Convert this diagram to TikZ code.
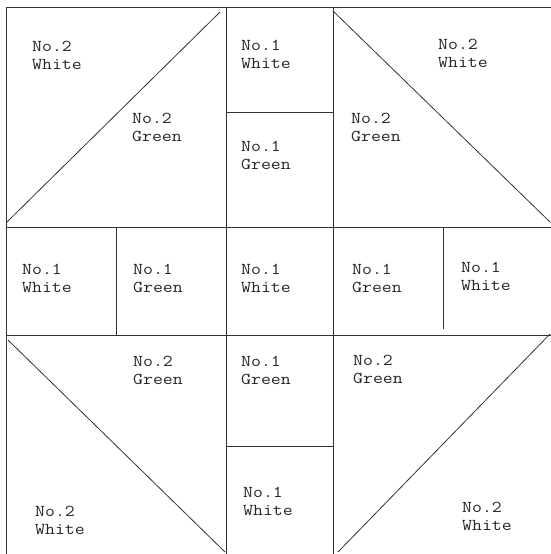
\documentclass[tikz,border=0pt]{standalone}
\begin{document}
\begin{tikzpicture}[x=1pt,y=-1pt,
  seam/.style={line width=0.8pt,draw=black!80},
  lbl/.style={anchor=north west,inner sep=0pt,align=left,text=black!85,
    xscale=1.16,transform shape,
    font=\ttfamily\fontsize{16.6}{17.5}\selectfont}]
\useasboundingbox (0,0) rectangle (551,554);
% outer frame (right and bottom edges lie at the image border)
\draw[seam] (551,7) -- (6,7) -- (6,554);
% main grid
\draw[seam] (226,7) -- (226,554);
\draw[seam] (333,7) -- (333,554);
\draw[seam] (6,227) -- (551,227);
\draw[seam] (6,335) -- (551,335);
% middle column splits
\draw[seam] (226,112) -- (333,112);
\draw[seam] (226,446) -- (333,446);
% middle row splits
\draw[seam] (116,227) -- (116,335);
\draw[seam] (443,227) -- (443,329);
% diagonals
\draw[seam] (7,222) -- (220,12);
\draw[seam] (333,11) -- (550,222);
\draw[seam] (8,340) -- (225,552);
\draw[seam] (338,552) -- (550,334);
% labels
\node[lbl] (tlw) at (32,41) {No.2\\White};
\node[lbl] (tlg) at (132,113) {No.2\\Green};
\node[lbl] (tmw) at (241,40) {No.1\\White};
\node[lbl] (tmg) at (241,141) {No.1\\Green};
\node[lbl] (trw) at (438,39) {No.2\\White};
\node[lbl] (trg) at (351,113) {No.2\\Green};
\node[lbl] (mlw) at (22,264) {No.1\\White};
\node[lbl] (mlg) at (133,264) {No.1\\Green};
\node[lbl] (mmw) at (241,264) {No.1\\White};
\node[lbl] (mrg) at (352,264) {No.1\\Green};
\node[lbl] (mrw) at (461,262) {No.1\\White};
\node[lbl] (blg) at (133,356) {No.2\\Green};
\node[lbl] (blw) at (35,506) {No.2\\White};
\node[lbl] (bmg) at (241,356) {No.1\\Green};
\node[lbl] (bmw) at (243,487) {No.1\\White};
\node[lbl] (brg) at (353,355) {No.2\\Green};
\node[lbl] (brw) at (462,502) {No.2\\White};
\end{tikzpicture}
\end{document}
